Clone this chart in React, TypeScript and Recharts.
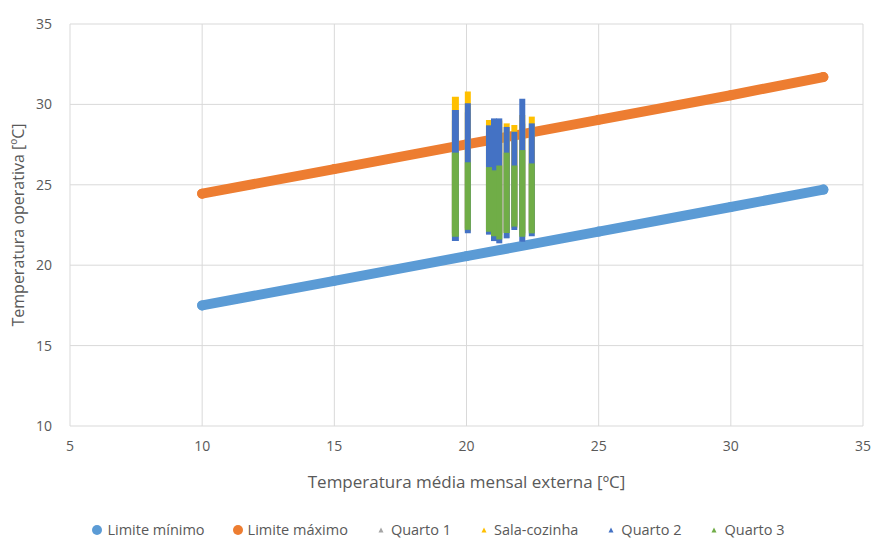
import {
  CartesianGrid,
  Legend,
  Scatter,
  ScatterChart,
  XAxis,
  YAxis,
} from "recharts";

// comfort limits, read at a few x values
const limitX = [10, 15, 20, 25, 30, 33.5];
const limiteMinimo = [17.5, 19.03, 20.56, 22.09, 23.62, 24.7];
const limiteMaximo = [24.45, 25.98, 27.51, 29.04, 30.57, 31.7];

// monthly mean outdoor temperature of each measured month
const stripeX = [19.58, 20.05, 20.85, 21.04, 21.24, 21.52, 21.81, 22.11, 22.47];

// operative temperature range per room and month
const quarto1Low = [22.0, 22.3, 22.2, 22.0, 22.0, 22.1, 22.5, 22.0, 22.2];
const quarto1High = [29.0, 29.5, 28.3, 28.6, 28.6, 28.2, 28.0, 28.8, 28.5];
const salaLow = [21.9, 22.1, 22.0, 21.9, 21.9, 22.0, 22.3, 21.9, 22.1];
const salaHigh = [30.48, 30.8, 29.03, 29.0, 29.0, 28.82, 28.72, 29.34, 29.24];
const quarto2Low = [21.5, 21.98, 21.9, 21.5, 21.36, 21.67, 22.19, 21.46, 21.8];
const quarto2High = [29.65, 30.07, 28.7, 29.13, 29.13, 28.6, 28.3, 30.35, 28.82];
const quarto3Low = [21.77, 22.2, 22.08, 21.8, 21.6, 22.0, 22.4, 21.77, 21.98];
const quarto3High = [27.0, 26.4, 26.1, 25.9, 26.2, 27.0, 26.2, 27.16, 26.33];

const xTicks = [5, 10, 15, 20, 25, 30, 35];
const yTicks = [10, 15, 20, 25, 30, 35];

const FONT = "'Open Sans', sans-serif";
const TEXT = "#595959";

const limits = [
  { name: "Limite mínimo", color: "#5B9BD5", data: limitX.map((x, i) => ({ x, y: limiteMinimo[i] })) },
  { name: "Limite máximo", color: "#ED7D31", data: limitX.map((x, i) => ({ x, y: limiteMaximo[i] })) },
];

const rooms = [
  { name: "Quarto 1", color: "#A5A5A5", low: quarto1Low, high: quarto1High },
  { name: "Sala-cozinha", color: "#FFC000", low: salaLow, high: salaHigh },
  { name: "Quarto 2", color: "#4472C4", low: quarto2Low, high: quarto2High },
  { name: "Quarto 3", color: "#70AD47", low: quarto3Low, high: quarto3High },
];

const dot = (color: string) => (p: any) =>
  <circle cx={p.cx} cy={p.cy} r={5} fill={color} />;

const noDot = () => <g />;

function LegendBox() {
  const items = [
    ...limits.map((l) => ({ name: l.name, color: l.color, circle: true })),
    ...rooms.map((r) => ({ name: r.name, color: r.color, circle: false })),
  ];
  return (
    <div
      style={{
        display: "flex",
        justifyContent: "center",
        gap: 28,
        fontFamily: FONT,
        fontSize: 14.5,
        color: TEXT,
        paddingTop: 12,
        paddingLeft: 14,
      }}
    >
      {items.map((e) => (
        <div key={e.name} style={{ display: "flex", alignItems: "center", gap: 5 }}>
          <svg width={10} height={10}>
            {e.circle ? (
              <circle cx={5} cy={5} r={5} fill={e.color} />
            ) : (
              <polygon points="5,2.5 7.5,7.5 2.5,7.5" fill={e.color} />
            )}
          </svg>
          <span>{e.name}</span>
        </div>
      ))}
    </div>
  );
}

export default function App() {
  return (
    <div style={{ position: "absolute", left: 0, top: 0, background: "#fff" }}>
      <ScatterChart
        width={875}
        height={538}
        margin={{ top: 24, right: 12, bottom: 0, left: 0 }}
      >
        <CartesianGrid stroke="#D9D9D9" strokeWidth={1} />
        <XAxis
          type="number"
          dataKey="x"
          domain={[5, 35]}
          ticks={xTicks}
          axisLine={false}
          tickLine={false}
          tickSize={0}
          tickMargin={15}
          height={82}
          tick={{ fill: TEXT, fontSize: 14, fontFamily: FONT }}
          label={{
            value: "Temperatura média mensal externa [ºC]",
            position: "insideBottom",
            offset: 20,
            fill: TEXT,
            fontSize: 17,
            fontFamily: FONT,
          }}
        />
        <YAxis
          type="number"
          dataKey="y"
          domain={[10, 35]}
          ticks={yTicks}
          axisLine={false}
          tickLine={false}
          tickSize={0}
          tickMargin={18}
          width={70}
          tick={{ fill: TEXT, fontSize: 14, fontFamily: FONT }}
          label={{
            value: "Temperatura operativa [ºC]",
            angle: -90,
            position: "insideLeft",
            offset: 18,
            fill: TEXT,
            fontSize: 16,
            fontFamily: FONT,
            style: { textAnchor: "middle" },
          }}
        />
        <Legend verticalAlign="bottom" height={30} content={<LegendBox />} />
        {limits.map((l) => (
          <Scatter
            key={l.name}
            name={l.name}
            data={l.data}
            fill={l.color}
            line={{ stroke: l.color, strokeWidth: 10, strokeLinecap: "round" }}
            shape={dot(l.color)}
            isAnimationActive={false}
          />
        ))}
        {rooms.flatMap((r) =>
          stripeX.map((x, i) => (
            <Scatter
              key={r.name + i}
              name={r.name}
              data={[
                { x, y: r.low[i] },
                { x, y: r.high[i] },
              ]}
              fill={r.color}
              line={{ stroke: r.color, strokeWidth: i === 0 ? 7 : 6 }}
              shape={noDot}
              isAnimationActive={false}
            />
          ))
        )}
      </ScatterChart>
    </div>
  );
}
